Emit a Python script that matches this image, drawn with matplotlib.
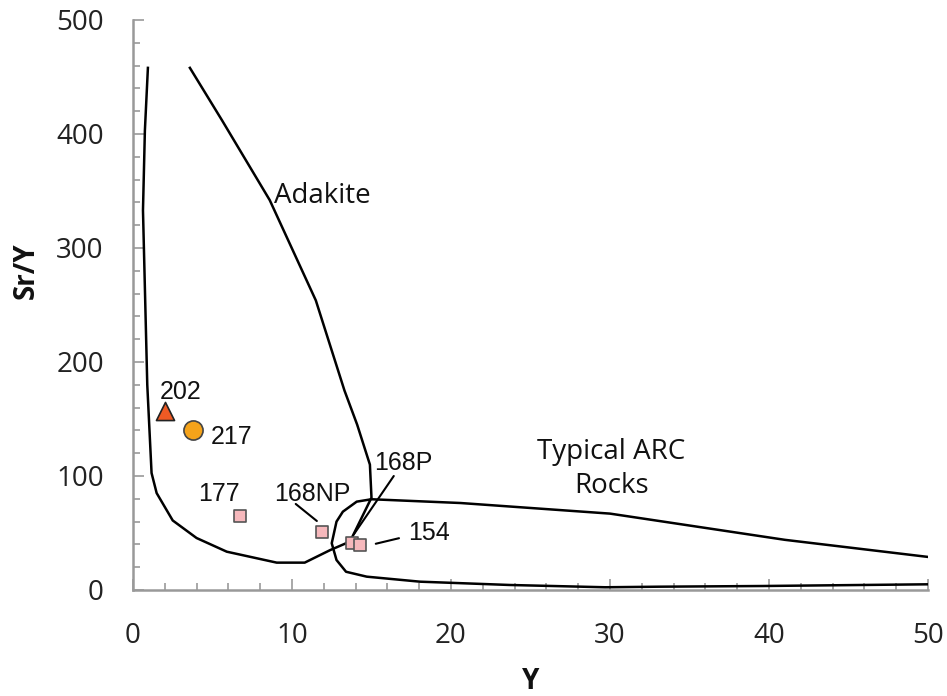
import matplotlib
matplotlib.use("Agg")
import matplotlib.pyplot as plt
from matplotlib.ticker import MultipleLocator

# Adakite field boundary (Y, Sr/Y)
adakite_x = [0.94, 0.75, 0.63, 0.9, 1.17, 1.49, 2.5, 4.0, 5.9, 9.04, 10.8, 12.4, 13.4, 13.8, 15.0, 14.9, 14.1, 13.3, 11.5, 8.6, 5.6, 3.58]
adakite_y = [458, 403, 333, 180, 102.6, 85, 61, 45.6, 33.6, 24, 24, 35, 41, 46.8, 81, 110, 145, 175, 254, 342, 412, 458]

# Typical ARC field boundary
arc_x = [50, 41, 30, 20.6, 15.0, 14.07, 13.2, 12.8, 12.5, 12.8, 13.4, 14.7, 18.05, 23.7, 29.7, 33.1, 39.6, 50]
arc_y = [29, 44, 67, 76.3, 79.6, 77.5, 68.7, 60, 41, 26.3, 16, 11.7, 7.3, 4.4, 2.4, 2.9, 3.5, 5.0]

# Samples
s202_x, s202_y = [2.0], [157]
s217_x, s217_y = [3.77], [140]
sq_names = ["177", "168NP", "168P", "154"]
sq_x = [6.7, 11.9, 13.8, 14.3]
sq_y = [65, 51, 41, 39.5]

fig = plt.figure(figsize=(9.47, 6.96), dpi=100)
ax = fig.add_axes([0.1404, 0.1523, 0.8396, 0.819])
ax.set_xlim(0, 50)
ax.set_ylim(0, 500)

ax.plot(adakite_x, adakite_y, color="black", lw=1.8, zorder=2)
ax.plot(arc_x, arc_y, color="black", lw=1.8, zorder=2)

ax.scatter(s202_x, s202_y, marker="^", s=170, facecolor="#EE5A24", edgecolor="#222222", linewidths=1.2, zorder=4)
ax.scatter(s217_x, s217_y, marker="o", s=190, facecolor="#F5A31A", edgecolor="#444444", linewidths=1.2, zorder=4)
ax.scatter(sq_x, sq_y, marker="s", s=80, facecolor="#F6B8BC", edgecolor="#555555", linewidths=1.2, zorder=4)

lab_font = dict(family="Liberation Sans", fontsize=18, color="#111111")
ax.text(3.0, 163, "202", ha="center", va="bottom", **lab_font)
ax.text(6.2, 134, "217", ha="center", va="center", **lab_font)
ax.text(5.4, 84, "177", ha="center", va="center", **lab_font)
ax.text(11.3, 84, "168NP", ha="center", va="center", **lab_font)
ax.text(17.0, 111, "168P", ha="center", va="center", **lab_font)
ax.text(18.6, 50, "154", ha="center", va="center", **lab_font)

# leader lines
ax.annotate("", xy=(11.7, 59), xytext=(10.1, 77),
            arrowprops=dict(arrowstyle="-", color="black", lw=1.5))
ax.annotate("", xy=(13.8, 47), xytext=(16.5, 102),
            arrowprops=dict(arrowstyle="-", color="black", lw=1.5))
ax.annotate("", xy=(15.1, 40), xytext=(16.9, 46),
            arrowprops=dict(arrowstyle="-", color="black", lw=1.5))

fld_font = dict(family="Open Sans", fontsize=20, color="#111111")
ax.text(11.9, 339.5, "Adakite", ha="center", va="baseline", **fld_font)
ax.text(30.1, 114.9, "Typical ARC", ha="center", va="baseline", **fld_font)
ax.text(30.1, 85.1, "Rocks", ha="center", va="baseline", **fld_font)

for s in ["top", "right"]:
    ax.spines[s].set_visible(False)
for s in ["left", "bottom"]:
    ax.spines[s].set_color("#999999")
    ax.spines[s].set_linewidth(1.8)

ax.xaxis.set_major_locator(MultipleLocator(10))
ax.xaxis.set_minor_locator(MultipleLocator(2))
ax.yaxis.set_major_locator(MultipleLocator(100))
ax.yaxis.set_minor_locator(MultipleLocator(20))
ax.tick_params(which="both", direction="in", color="#999999", width=1.2)
ax.tick_params(which="major", length=8)
ax.tick_params(which="minor", length=5)
ax.tick_params(axis="x", which="major", pad=23)
ax.tick_params(axis="y", which="major", pad=21)
for lbl in ax.get_xticklabels() + ax.get_yticklabels():
    lbl.set_family("Open Sans")
    lbl.set_fontsize(20)
    lbl.set_color("#222222")

ax.text(0.5, -0.161, "Y", transform=ax.transAxes, ha="center", va="center",
        family="Open Sans", fontsize=20, fontweight="bold", color="#111111")
ax.text(-0.1346, 0.561, "Sr/Y", transform=ax.transAxes, ha="center", va="center",
        rotation=90, family="Open Sans", fontsize=20, fontweight="bold", color="#111111")

fig.savefig("out.png", dpi=100)
